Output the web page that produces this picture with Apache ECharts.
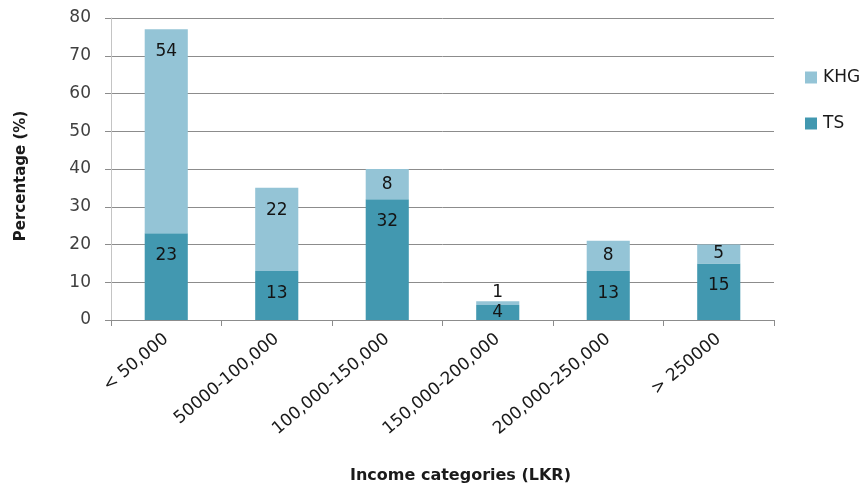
<!DOCTYPE html>
<html>
<head>
<meta charset="utf-8">
<script src="https://cdn.jsdelivr.net/npm/echarts@6/dist/echarts.min.js"></script>
<style>
  html, body { margin: 0; padding: 0; background: #ffffff; }
  #chart { width: 864px; height: 491px; }
</style>
</head>
<body>
<div id="chart"></div>
<script>
// Income categories and share of respondents (%) by site
const categories = ['< 50,000', '50000-100,000', '100,000-150,000', '150,000-200,000', '200,000-250,000', '> 250000'];
const tsValues  = [23, 13, 32, 4, 13, 15];
const khgValues = [54, 22, 8, 1, 8, 5];
const yTicks = { min: 0, max: 80, interval: 10 };

const FONT = '"DejaVu Sans", sans-serif';
const TS_COLOR = '#4298b0';
const KHG_COLOR = '#94c4d6';

// Small segments get their label centred (or above), larger ones near the top
function labelled(values, tinyPos) {
  return values.map(v => ({
    value: v,
    label: v < 3 ? { position: tinyPos, distance: 0 }
         : v < 10 ? { position: 'inside' }
         : { position: 'insideTop', distance: 14 }
  }));
}

const chart = echarts.init(document.getElementById('chart'), null, { renderer: 'canvas' });

const dataLabel = {
  show: true,
  color: '#141414',
  fontFamily: FONT,
  fontSize: 17
};

chart.setOption({
  animation: false,
  backgroundColor: '#ffffff',
  textStyle: { fontFamily: FONT },
  grid: { left: 111, right: 90, top: 18, bottom: 171, containLabel: false },
  legend: {
    orient: 'vertical',
    left: 800,
    top: 64,
    itemWidth: 12,
    itemHeight: 12,
    itemGap: 29,
    icon: 'rect',
    data: ['KHG', 'TS'],
    textStyle: { fontFamily: FONT, fontSize: 17, color: '#1a1a1a', padding: [0, 0, 0, 1] }
  },
  xAxis: {
    type: 'category',
    data: categories,
    name: 'Income categories (LKR)',
    nameLocation: 'middle',
    nameGap: 148,
    nameTextStyle: { fontFamily: FONT, fontSize: 16, fontWeight: 'bold', color: '#1a1a1a', padding: [0, 0, 0, 36] },
    axisLine: { lineStyle: { color: '#8c8c8c', width: 1 } },
    axisTick: { show: true, length: 6, lineStyle: { color: '#8c8c8c' } },
    axisLabel: {
      rotate: 40,
      margin: 17,
      fontFamily: FONT,
      fontSize: 17,
      color: '#1a1a1a'
    }
  },
  yAxis: {
    type: 'value',
    min: yTicks.min,
    max: yTicks.max,
    interval: yTicks.interval,
    name: 'Percentage (%)',
    nameLocation: 'middle',
    nameGap: 82,
    nameTextStyle: { fontFamily: FONT, fontSize: 15, fontWeight: 'bold', color: '#1a1a1a', padding: [0, 14, 0, 0] },
    axisLine: { show: true, lineStyle: { color: '#c4c4c4', width: 1 } },
    axisTick: { show: true, length: 6, lineStyle: { color: '#8c8c8c' } },
    axisLabel: { margin: 20, fontFamily: FONT, fontSize: 17, color: '#404040' },
    splitLine: { show: true, lineStyle: { color: '#8c8c8c', width: 1 } }
  },
  series: [
    {
      name: 'TS',
      type: 'bar',
      stack: 'total',
      barWidth: '39%',
      itemStyle: { color: TS_COLOR },
      label: dataLabel,
      data: labelled(tsValues, 'inside')
    },
    {
      name: 'KHG',
      type: 'bar',
      stack: 'total',
      barWidth: '39%',
      itemStyle: { color: KHG_COLOR },
      label: dataLabel,
      data: labelled(khgValues, 'top')
    }
  ]
});
</script>
</body>
</html>
